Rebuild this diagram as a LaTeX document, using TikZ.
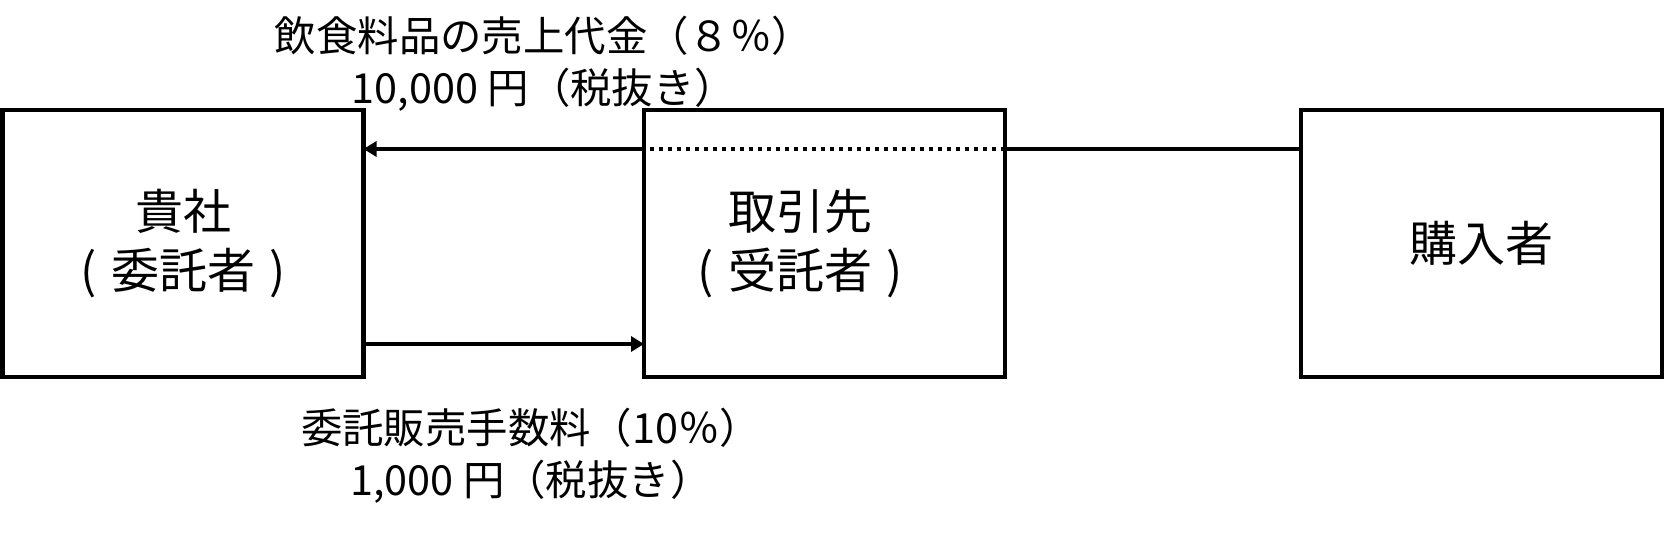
\documentclass[tikz,border=0pt]{standalone}
\usepackage{fontspec}
\setmainfont{Noto Sans CJK JP}
\usetikzlibrary{positioning,arrows.meta}
\newcommand{\paren}[1]{(\kern0.3em#1\kern0.3em)}
\tikzset{
>={Triangle[length=6.5pt,width=7.5pt]},
  party/.style={
    rectangle,
    draw=black, line width=2.15pt,
    outer sep=0pt,
    minimum width=180.5pt,
    minimum height=133.5pt,
    align=center,
    font=\fontsize{24pt}{29.5pt}\selectfont},
  flow/.style={draw, line width=2.15pt},
  dots/.style={flow, dash pattern=on 2.25pt off 2.25pt},
  amount/.style={
    align=center,
    inner sep=0pt,
    font=\fontsize{20.7pt}{26pt}\selectfont},
}

\begin{document}
\begin{tikzpicture}
  [x=0.5pt, y=-0.5pt]
  \useasboundingbox (0,0) rectangle (1665,534);
     \node[party] (b1) at (183,243.5) {貴社\\\paren{委託者}};
     \node[party, right=140.25pt of b1,
       label={[party, draw=none, xshift=-12pt]center:取引先\\\paren{受託者}}] (b2) {};
     \node[party, right=148pt of b2] (b3) {購入者};

     \draw[flow] ([yshift=47.25pt]b3.west) -- ([yshift=47.25pt]b2.east);
     \draw[dots] ([yshift=47.25pt]b2.east) -- ([yshift=47.25pt]b2.west);
     \draw[flow, ->] ([yshift=47.25pt]b2.west) -- ([yshift=47.25pt]b1.east);
     \draw[flow, ->] ([yshift=-50.25pt]b1.east) -- ([yshift=-50.25pt]b2.west);

     \node[amount] (sales) at (544,64) {飲食料品の売上代金（８％）\\10,000 円（税抜き）};
     \node[amount] (fee) at (531,456) {委託販売手数料（10％）\\1,000 円（税抜き）};
  \end{tikzpicture}
\end{document}
